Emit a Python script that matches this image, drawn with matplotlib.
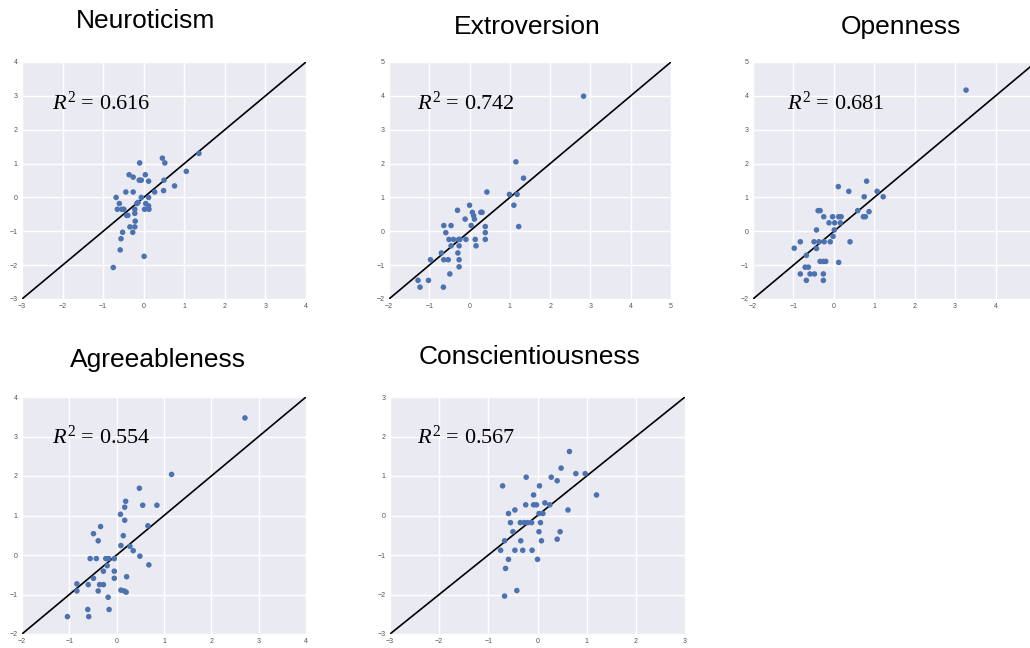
import matplotlib
matplotlib.use("Agg")
import matplotlib.pyplot as plt
import seaborn as sns

sns.set_style("darkgrid")
plt.rcParams["font.family"] = ["Liberation Sans", "DejaVu Sans"]
plt.rcParams["mathtext.fontset"] = "custom"
plt.rcParams["mathtext.rm"] = "Liberation Serif"
plt.rcParams["mathtext.it"] = "Liberation Serif:italic"

# --- data ---
traits = ["Neuroticism", "Extroversion", "Openness", "Agreeableness", "Conscientiousness"]
r2_values = [0.616, 0.742, 0.681, 0.554, 0.567]

neuro_x = [-0.68, -0.65, -0.60, -0.54, -0.49, -0.44, -0.42, -0.39, -0.36, -0.34, -0.26, -0.26,
           -0.22, -0.22, -0.21, -0.22, -0.27, -0.52, -0.56, -0.58, -0.75, 0.01, -0.10, -0.11,
           -0.06, -0.17, -0.14, -0.06, 0.04, 0.12, 0.12, 0.05, 0.12, 0.13, 0.02, 0.27, 0.46,
           0.52, 0.50, 0.49, 0.76, 1.05, 1.36]
neuro_y = [0.00, -0.35, -0.18, -0.35, -0.35, 0.16, -0.53, -0.53, 0.67, -0.87, 0.60, 0.16,
           -0.35, -0.47, -0.70, -0.87, -1.03, -1.03, -1.22, -1.55, -2.07, -1.74, 1.02, 0.51,
           0.51, -0.18, -0.15, 0.00, 0.67, 0.48, 0.00, -0.18, -0.25, -0.35, -0.35, 0.16, 1.16,
           1.02, 0.51, 0.20, 0.34, 0.77, 1.30]

extro_x = [-1.28, -1.23, -1.02, -0.97, -0.70, -0.64, -0.59, -0.64, -0.53, -0.65, -0.49, -0.51,
           -0.46, -0.46, -0.40, -0.30, -0.27, -0.26, -0.29, -0.26, -0.26, -0.24, -0.11, -0.09,
           0.00, 0.07, 0.10, 0.12, 0.04, 0.14, 0.16, 0.28, 0.31, 0.39, 0.39, 0.39, 0.43, 0.99,
           1.10, 1.15, 1.18, 1.22, 1.34, 2.83]
extro_y = [-1.45, -1.65, -1.45, -0.84, -0.64, 0.17, -0.04, -0.84, -0.84, -1.65, -1.26, -0.24,
           0.17, -0.43, -0.24, 0.62, -0.24, -0.43, -0.64, -0.84, -1.05, -0.24, 0.36, -0.24,
           0.77, 0.56, 0.46, 0.36, 0.17, -0.24, -0.43, 0.56, 0.56, 0.14, -0.04, -0.24, 1.16, 1.09,
           0.77, 2.05, 1.09, 0.14, 1.57, 3.99]

open_x = [-0.98, -0.83, -0.83, -0.68, -0.71, -0.63, -0.59, -0.68, -0.48, -0.49, -0.43, -0.43,
          -0.39, -0.34, -0.37, -0.34, -0.26, -0.20, -0.25, -0.24, -0.26, -0.26, -0.12, -0.09,
          -0.03, -0.02, 0.01, 0.02, 0.11, 0.12, 0.12, 0.18, 0.16, 0.37, 0.40, 0.59, 0.75, 0.73,
          0.78, 0.81, 0.87, 1.07, 1.22, 3.27]
open_y = [-0.50, -0.31, -1.26, -0.71, -1.06, -1.06, -1.26, -1.45, -1.26, -0.31, 0.04, -0.51,
          0.61, 0.61, -0.31, -0.89, -0.89, -0.89, 0.43, -0.31, -1.26, -1.45, 0.25, -0.31,
          0.43, -0.15, 0.04, 0.25, 1.32, 0.43, -0.92, 0.43, 0.25, 1.18, -0.31, 0.61, 1.02, 0.43,
          0.43, 1.48, 0.58, 1.18, 1.02, 4.17]

agree_x = [-1.04, -0.84, -0.84, -0.61, -0.59, -0.60, -0.56, -0.49, -0.49, -0.43, -0.39, -0.39,
           -0.34, -0.36, -0.28, -0.28, -0.23, -0.20, -0.17, -0.18, -0.16, -0.05, -0.05, -0.05,
           0.08, 0.09, 0.09, 0.14, 0.16, 0.17, 0.17, 0.19, 0.21, 0.20, 0.28, 0.35, 0.48, 0.49,
           0.55, 0.66, 0.68, 0.85, 1.16, 2.71]
agree_y = [-1.56, -0.73, -0.91, -1.38, -1.56, -0.75, -0.09, 0.54, -0.59, -0.09, 0.36, -0.91,
           0.72, -0.75, -0.75, -0.41, -0.09, -0.27, -0.09, -1.07, -1.38, -0.09, -0.41, -0.59,
           1.03, 0.24, -0.89, 0.49, -0.91, 1.21, 0.88, 1.36, -0.55, -0.94, 0.22, 0.11, 1.69, -0.03,
           1.26, 0.74, -0.25, 1.26, 2.04, 3.47]

consc_x = [-0.75, -0.71, -0.67, -0.67, -0.65, -0.59, -0.59, -0.55, -0.50, -0.46, -0.46, -0.42,
           -0.35, -0.34, -0.30, -0.27, -0.24, -0.23, -0.20, -0.12, -0.11, -0.08, -0.08, -0.02,
           0.00, 0.03, 0.04, 0.03, 0.06, 0.08, 0.11, 0.15, 0.25, 0.28, 0.40, 0.40, 0.46, 0.48,
           0.62, 0.65, 0.78, 0.97, 1.20]
consc_y = [-0.88, 0.75, -0.64, -2.04, -1.34, 0.05, -1.11, -0.18, -0.41, 0.14, -0.88, -1.90,
           -0.18, -0.64, -0.88, -0.18, 0.27, 0.97, -0.18, -0.18, -0.88, 0.52, 0.27, 0.27,
           -1.11, 0.05, 0.75, -0.41, -0.18, -0.64, 0.05, 0.32, 0.27, 0.97, 0.88, -0.60, -0.41, 1.20,
           0.14, 1.62, 1.06, 1.06, 0.52]

xs = [neuro_x, extro_x, open_x, agree_x, consc_x]
ys = [neuro_y, extro_y, open_y, agree_y, consc_y]
limits = [(-3, 4), (-2, 5), (-2, 5), (-2, 4), (-3, 3)]
# the Openness panel runs off the right edge, so its last x label is not shown
last_xtick = [4, 5, 4, 4, 3]

# --- layout, in pixels of the 1030x648 image ---
W, H = 1030, 648
boxes = [(22, 62, 306, 299), (389, 62, 671, 299), (753, 62, 1036, 299),
         (22, 397, 306, 634), (390, 397, 685, 634)]
title_pos = [(146, 21), (527, 27), (901, 27), (158, 360), (530, 357)]
label_pos = [(52, 103), (417, 103), (787, 103), (52, 437), (417, 437)]

fig = plt.figure(figsize=(W / 100, H / 100), dpi=100)

for i in range(5):
    l, t, r, b = boxes[i]
    ax = fig.add_axes([l / W, 1 - b / H, (r - l) / W, (b - t) / H])
    lo, hi = limits[i]
    ax.plot([lo, hi], [lo, hi], color="black", lw=1.2, zorder=2)
    ax.scatter(xs[i], ys[i], s=16, color="#4C72B0", edgecolors="none", zorder=3)
    ax.set_xlim(lo, hi)
    ax.set_ylim(lo, hi)
    ax.set_xticks(range(lo, last_xtick[i] + 1))
    ax.set_yticks(range(lo, hi + 1))
    ax.tick_params(labelsize=5, colors="#555555", length=0, pad=3)
    ax.grid(color="white", lw=1)
    for s in ax.spines.values():
        s.set_visible(False)

    tx, ty = title_pos[i]
    fig.text(tx / W, 1 - ty / H, traits[i], fontsize=19, color="black",
             ha="center", va="center")
    lx, ly = label_pos[i]
    fig.text(lx / W, 1 - ly / H, r"$R^{2}$ = %.3f" % r2_values[i], fontsize=16,
             family="Liberation Serif", color="black", ha="left", va="center")

fig.savefig("out.png", dpi=100)
